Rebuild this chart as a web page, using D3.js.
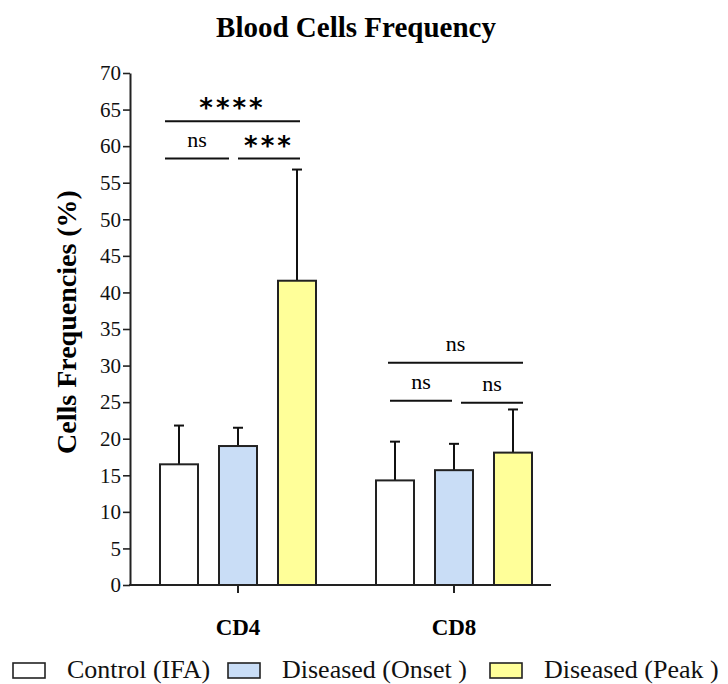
<!DOCTYPE html>
<html><head><meta charset="utf-8">
<script src="https://cdn.jsdelivr.net/npm/d3@7"></script>
<style>body{margin:0;background:#fff}svg{display:block}
svg text{font-family:"Liberation Serif","Times New Roman",serif}
svg text.ast{font-family:"DejaVu Sans",sans-serif}
</style>
</head><body>
<script>
const categories = ["CD4", "CD8"];
const groups = ["Control (IFA)", "Diseased (Onset )", "Diseased (Peak )"];
const means = {
  "CD4": [16.5, 19.0, 41.6],
  "CD8": [14.3, 15.7, 18.1]
};
const errors = {
  "CD4": [5.3, 2.5, 15.2],
  "CD8": [5.3, 3.6, 5.9]
};
const yTicks = [0,5,10,15,20,25,30,35,40,45,50,55,60,65,70];
const brackets = [
  {cat:"CD4", from:0, to:2, y:63.4, label:"****"},
  {cat:"CD4", from:0, to:1, y:58.3, label:"ns"},
  {cat:"CD4", from:1, to:2, y:58.3, label:"***"},
  {cat:"CD8", from:0, to:2, y:30.4, label:"ns"},
  {cat:"CD8", from:0, to:1, y:25.2, label:"ns"},
  {cat:"CD8", from:1, to:2, y:24.9, label:"ns"}
];
const colors = ["#ffffff", "#c9ddf6", "#ffff99"];
// pixel nudges for bracket ends (style only)
const nudges = [[-14,3],[-14,-9],[0,3],[-7,10],[-5,-2],[7,10]];

const W = 728, H = 684;
const svg = d3.select("body").append("svg").attr("width", W).attr("height", H);

const y = d3.scaleLinear().domain([0,70]).range([585,73]);
const x = d3.scaleBand().domain(categories).range([130,562]).paddingInner(0).paddingOuter(0);
const xi = d3.scaleBand().domain(d3.range(3)).range([-88.5,88.5]).paddingInner(0.356).paddingOuter(0.178);

// title
svg.append("text").attr("x",356).attr("y",37).attr("text-anchor","middle")
  .attr("font-weight","bold").attr("font-size",29).text("Blood Cells Frequency");

// y label
svg.append("text").attr("transform","translate(76,322) rotate(-90)").attr("text-anchor","middle")
  .attr("font-weight","bold").attr("font-size",28).text("Cells Frequencies (%)");

// bars
categories.forEach(c => {
  const cx = x(c) + x.bandwidth()/2;
  groups.forEach((g,i) => {
    const bx = cx + xi(i);
    const bc = bx + xi.bandwidth()/2;
    const v = means[c][i], e = errors[c][i];
    svg.append("line").attr("x1",bc).attr("x2",bc).attr("y1",y(v)).attr("y2",y(v+e))
      .attr("stroke","#111").attr("stroke-width",2);
    svg.append("line").attr("x1",bc-5).attr("x2",bc+5).attr("y1",y(v+e)).attr("y2",y(v+e))
      .attr("stroke","#111").attr("stroke-width",2);
    svg.append("rect").attr("x",bx).attr("y",y(v)).attr("width",xi.bandwidth()).attr("height",y(0)-y(v))
      .attr("fill",colors[i]).attr("stroke","#222").attr("stroke-width",2);
  });
});

// axes
const yAxis = svg.append("g").attr("transform","translate(130,0)")
  .call(d3.axisLeft(y).tickValues(yTicks).tickSize(7).tickSizeOuter(0).tickPadding(2));
yAxis.attr("font-family",null);
yAxis.select(".domain").attr("stroke","#222").attr("stroke-width",2);
yAxis.selectAll(".tick line").attr("stroke","#222").attr("stroke-width",1.6);
yAxis.selectAll(".tick text").attr("font-size",21).attr("fill","#111");

const xAxis = svg.append("g").attr("transform","translate(0,585)")
  .call(d3.axisBottom(x).tickSize(8).tickSizeOuter(0).tickFormat(""));
xAxis.attr("font-family",null);
xAxis.select(".domain").attr("d","M129,0H551").attr("stroke","#222").attr("stroke-width",2);
xAxis.selectAll(".tick line").attr("stroke","#222").attr("stroke-width",2);

categories.forEach(c => {
  svg.append("text").attr("x", x(c)+x.bandwidth()/2).attr("y",635).attr("text-anchor","middle")
    .attr("font-weight","bold").attr("font-size",23).text(c);
});

// significance brackets
brackets.forEach((b,k) => {
  const cx = x(b.cat) + x.bandwidth()/2;
  const x1 = cx + xi(b.from) + xi.bandwidth()/2 + nudges[k][0];
  const x2 = cx + xi(b.to) + xi.bandwidth()/2 + nudges[k][1];
  const yy = y(b.y);
  svg.append("line").attr("x1",x1).attr("x2",x2).attr("y1",yy).attr("y2",yy)
    .attr("stroke","#111").attr("stroke-width",2);
  const t = svg.append("text").attr("x",(x1+x2)/2).attr("text-anchor","middle");
  if (b.label === "ns") {
    t.attr("y", yy-12).attr("font-size",22).text(b.label);
  } else {
    t.attr("class","ast").attr("y", yy-4).attr("font-weight","bold")
     .attr("font-size",26).attr("letter-spacing",3).text(b.label);
  }
});

// legend
const legX = [13, 228, 490];
groups.forEach((g,i) => {
  svg.append("rect").attr("x",legX[i]).attr("y",663).attr("width",32).attr("height",15)
    .attr("fill",colors[i]).attr("stroke","#222").attr("stroke-width",1.6);
  svg.append("text").attr("x",legX[i]+54).attr("y",678)
    .attr("font-size",26).attr("fill","#111").text(g);
});
</script>
</body></html>
